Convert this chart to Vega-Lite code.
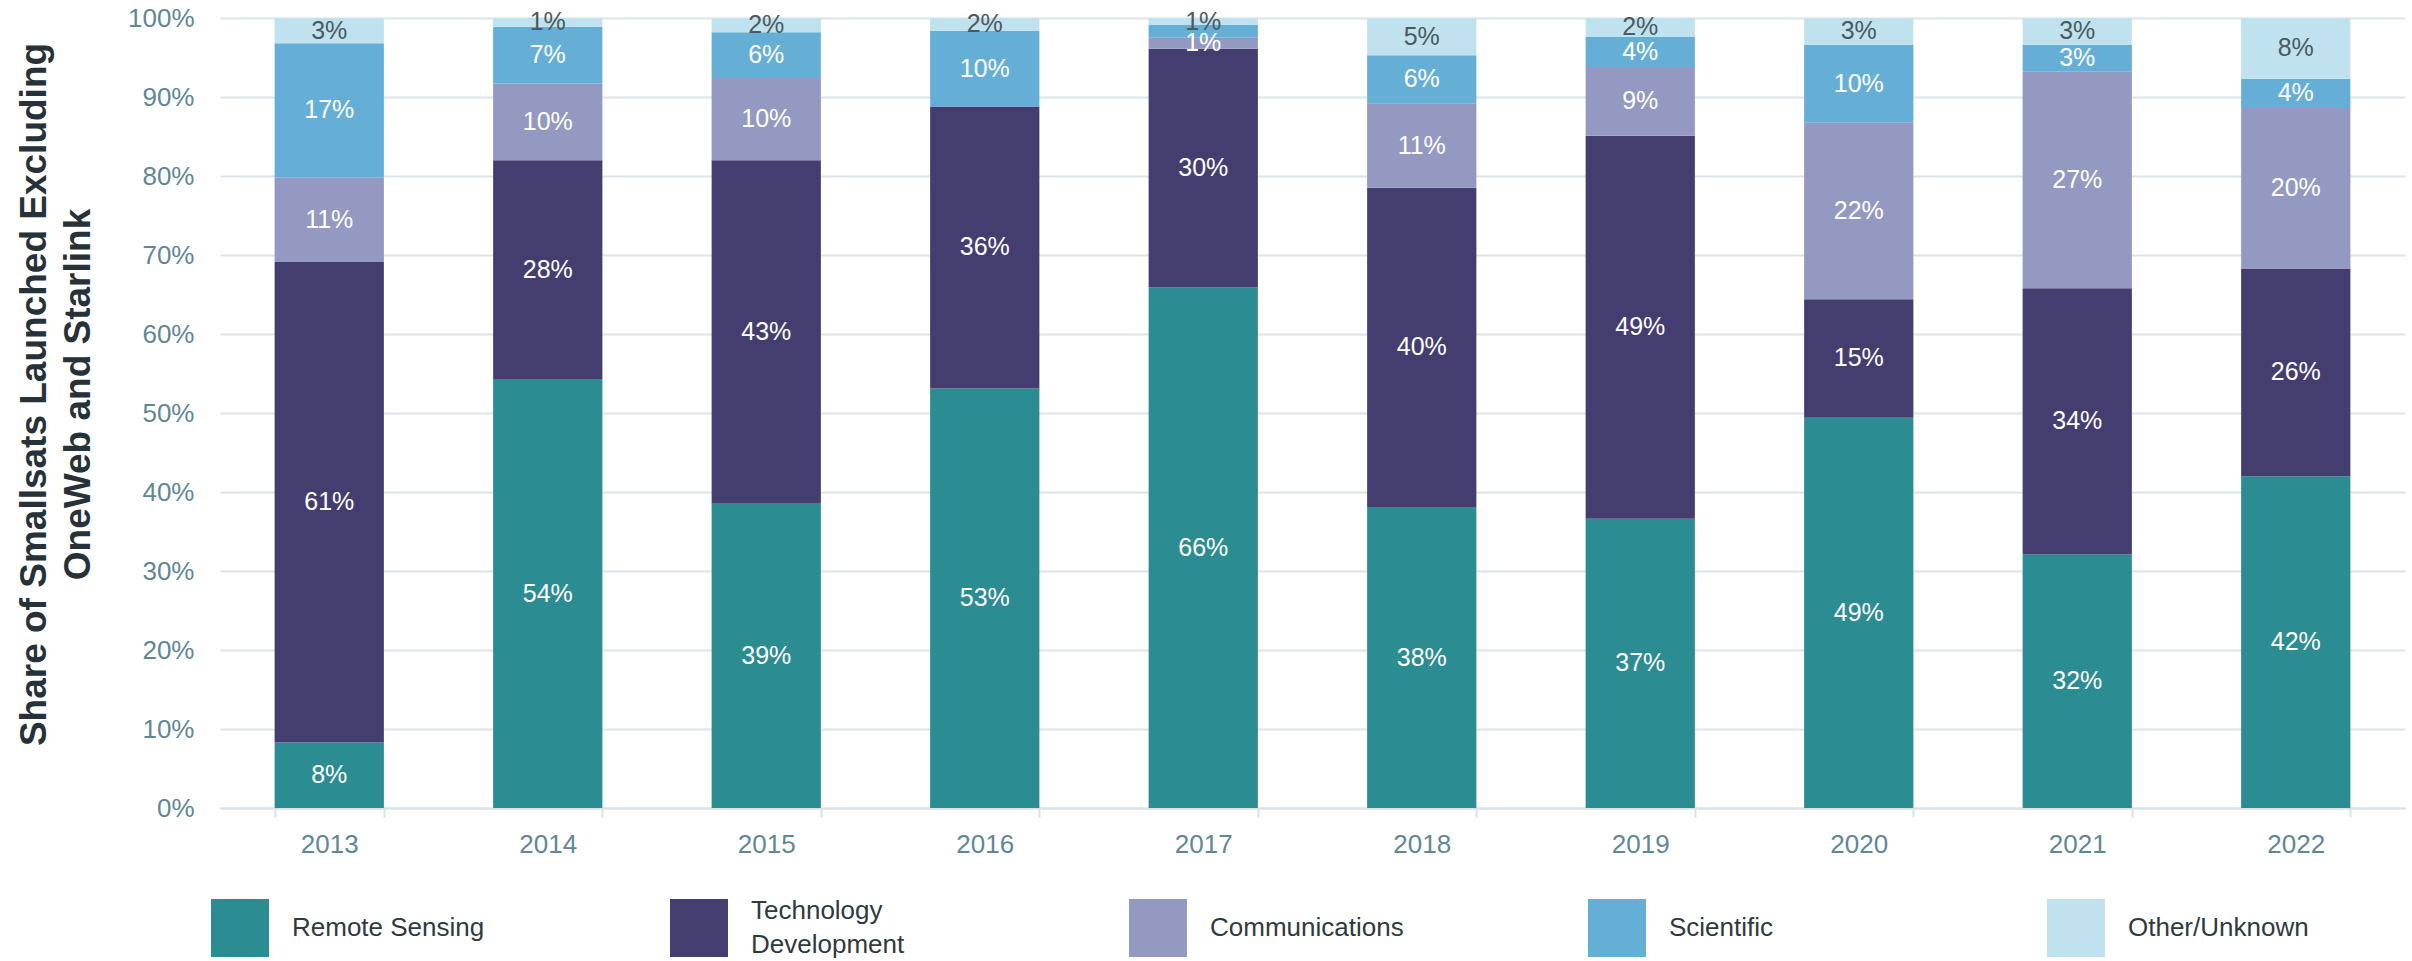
{
  "$schema": "https://vega.github.io/schema/vega-lite/v6.json",
  "background": "white",
  "padding": {"left": 15, "top": 5, "right": 4, "bottom": 4},
  "bounds": "flush",
  "spacing": 91,
  "config": {"font": "Liberation Sans", "view": {"stroke": null}},
  "resolve": {"scale": {"x": "independent", "y": "independent"}},
  "datasets": {
    "shares": [
      {"year": "2013", "category": "Remote Sensing", "share": 0.083},
      {"year": "2013", "category": "Technology Development", "share": 0.608},
      {"year": "2013", "category": "Communications", "share": 0.107},
      {"year": "2013", "category": "Scientific", "share": 0.170},
      {"year": "2013", "category": "Other/Unknown", "share": 0.032},
      {"year": "2014", "category": "Remote Sensing", "share": 0.543},
      {"year": "2014", "category": "Technology Development", "share": 0.277},
      {"year": "2014", "category": "Communications", "share": 0.097},
      {"year": "2014", "category": "Scientific", "share": 0.072},
      {"year": "2014", "category": "Other/Unknown", "share": 0.011},
      {"year": "2015", "category": "Remote Sensing", "share": 0.386},
      {"year": "2015", "category": "Technology Development", "share": 0.434},
      {"year": "2015", "category": "Communications", "share": 0.104},
      {"year": "2015", "category": "Scientific", "share": 0.058},
      {"year": "2015", "category": "Other/Unknown", "share": 0.018},
      {"year": "2016", "category": "Remote Sensing", "share": 0.531},
      {"year": "2016", "category": "Technology Development", "share": 0.357},
      {"year": "2016", "category": "Communications", "share": 0.0},
      {"year": "2016", "category": "Scientific", "share": 0.096},
      {"year": "2016", "category": "Other/Unknown", "share": 0.016},
      {"year": "2017", "category": "Remote Sensing", "share": 0.659},
      {"year": "2017", "category": "Technology Development", "share": 0.302},
      {"year": "2017", "category": "Communications", "share": 0.014},
      {"year": "2017", "category": "Scientific", "share": 0.016},
      {"year": "2017", "category": "Other/Unknown", "share": 0.009},
      {"year": "2018", "category": "Remote Sensing", "share": 0.381},
      {"year": "2018", "category": "Technology Development", "share": 0.404},
      {"year": "2018", "category": "Communications", "share": 0.107},
      {"year": "2018", "category": "Scientific", "share": 0.061},
      {"year": "2018", "category": "Other/Unknown", "share": 0.047},
      {"year": "2019", "category": "Remote Sensing", "share": 0.366},
      {"year": "2019", "category": "Technology Development", "share": 0.485},
      {"year": "2019", "category": "Communications", "share": 0.087},
      {"year": "2019", "category": "Scientific", "share": 0.038},
      {"year": "2019", "category": "Other/Unknown", "share": 0.024},
      {"year": "2020", "category": "Remote Sensing", "share": 0.494},
      {"year": "2020", "category": "Technology Development", "share": 0.150},
      {"year": "2020", "category": "Communications", "share": 0.224},
      {"year": "2020", "category": "Scientific", "share": 0.098},
      {"year": "2020", "category": "Other/Unknown", "share": 0.034},
      {"year": "2021", "category": "Remote Sensing", "share": 0.321},
      {"year": "2021", "category": "Technology Development", "share": 0.337},
      {"year": "2021", "category": "Communications", "share": 0.274},
      {"year": "2021", "category": "Scientific", "share": 0.034},
      {"year": "2021", "category": "Other/Unknown", "share": 0.034},
      {"year": "2022", "category": "Remote Sensing", "share": 0.420},
      {"year": "2022", "category": "Technology Development", "share": 0.263},
      {"year": "2022", "category": "Communications", "share": 0.203},
      {"year": "2022", "category": "Scientific", "share": 0.037},
      {"year": "2022", "category": "Other/Unknown", "share": 0.077}
    ],
    "legend": [
      {"category": "Remote Sensing", "label": "Remote Sensing"},
      {"category": "Technology Development", "label": "Technology\nDevelopment"},
      {"category": "Communications", "label": "Communications"},
      {"category": "Scientific", "label": "Scientific"},
      {"category": "Other/Unknown", "label": "Other/Unknown"}
    ]
  },
  "vconcat": [
    {
      "width": 2185,
      "height": 790,
      "data": {"name": "shares"},
      "transform": [
        {"calculate": "indexof(['Remote Sensing','Technology Development','Communications','Scientific','Other/Unknown'], datum.category)", "as": "ord"},
        {"stack": "share", "groupby": ["year"], "sort": [{"field": "ord", "order": "ascending"}], "as": ["y0", "y1"]},
        {"calculate": "(datum.y0 + datum.y1) / 2", "as": "ymid"}
      ],
      "encoding": {
        "x": {
          "field": "year", "type": "ordinal",
          "scale": {"paddingInner": 0.5, "paddingOuter": 0.25},
          "axis": {
            "title": null, "labelAngle": 0, "labelColor": "#5f8795", "labelFontSize": 26,
            "domainColor": "#d9e3e7", "domainWidth": 2, "tickColor": "#d9e3e7", "tickWidth": 2,
            "tickSize": 9, "tickBand": "extent", "labelPadding": 14, "grid": false
          }
        }
      },
      "layer": [
        {
          "mark": {"type": "bar"},
          "encoding": {
            "y": {
              "field": "y1", "type": "quantitative",
              "scale": {"domain": [0, 1], "nice": false},
              "axis": {
                "values": [0, 0.1, 0.2, 0.3, 0.4, 0.5, 0.6, 0.7, 0.8, 0.9, 1],
                "format": ".0%", "labelColor": "#5f8795", "labelFontSize": 26, "labelPadding": 26,
                "ticks": false, "domain": false, "grid": true, "gridColor": "#dbe4e8", "gridWidth": 2,
                "title": ["Share of Smallsats Launched Excluding", "OneWeb and Starlink"],
                "titleFontSize": 37, "titleFontWeight": "bold", "titleColor": "#263238",
                "titleLineHeight": 44, "titlePadding": 30, "titleY": 376
              }
            },
            "y2": {"field": "y0"},
            "color": {
              "field": "category", "type": "nominal",
              "scale": {
                "domain": ["Remote Sensing", "Technology Development", "Communications", "Scientific", "Other/Unknown"],
                "range": ["#2b8c92", "#433e6f", "#9399c0", "#65afd7", "#c0e2ee"]
              },
              "legend": null
            }
          }
        },
        {
          "transform": [
            {"filter": "datum.share > 0"},
            {"filter": "!(datum.year === '2017' && datum.category === 'Scientific')"}
          ],
          "mark": {"type": "text", "fontSize": 25, "baseline": "middle", "align": "center"},
          "encoding": {
            "y": {"field": "ymid", "type": "quantitative"},
            "text": {"field": "share", "type": "quantitative", "format": ".0%"},
            "color": {
              "condition": {"test": "datum.category === 'Other/Unknown'", "value": "#4a5a60"},
              "value": "white"
            }
          }
        }
      ]
    },
    {
      "width": 1876,
      "height": 58,
      "data": {"name": "legend"},
      "encoding": {
        "x": {
          "field": "category", "type": "nominal",
          "sort": ["Remote Sensing", "Technology Development", "Communications", "Scientific", "Other/Unknown"],
          "scale": {"type": "point", "padding": 0.0436},
          "axis": null
        }
      },
      "layer": [
        {
          "mark": {"type": "square", "size": 3364, "opacity": 1},
          "encoding": {
            "color": {
              "field": "category", "type": "nominal",
              "scale": {
                "domain": ["Remote Sensing", "Technology Development", "Communications", "Scientific", "Other/Unknown"],
                "range": ["#2b8c92", "#433e6f", "#9399c0", "#65afd7", "#c0e2ee"]
              },
              "legend": null
            }
          }
        },
        {
          "transform": [{"filter": "datum.category !== 'Technology Development'"}],
          "mark": {"type": "text", "align": "left", "baseline": "middle", "dx": 52, "fontSize": 26, "color": "#2f3a3f"},
          "encoding": {"text": {"field": "label"}}
        },
        {
          "transform": [{"filter": "datum.category === 'Technology Development'"}],
          "mark": {"type": "text", "align": "left", "baseline": "middle", "dx": 52, "dy": -17, "fontSize": 26, "color": "#2f3a3f", "lineBreak": "\n", "lineHeight": 34},
          "encoding": {"text": {"field": "label"}}
        }
      ]
    }
  ]
}
